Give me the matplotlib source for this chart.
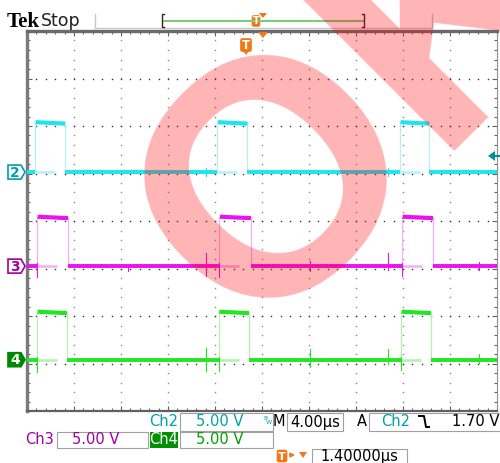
import numpy as np
import matplotlib.pyplot as plt
from matplotlib.patches import Polygon, Rectangle, FancyBboxPatch

# ---- data (time in us, 4 us/div, 5 V/div) ----
ch2_rise = [0.68, 16.2, 31.74]
ch2_fall = [3.23, 18.75, 34.21]
ch3_rise = [0.85, 16.37, 31.91]
ch3_fall = [3.49, 19.06, 34.55]
ch4_rise = [0.85, 16.31, 31.83]
ch4_fall = [3.40, 18.89, 34.38]

ch2_high = 5.25   # volts
ch3_high = 5.2
ch4_high = 5.05

ch2_pos = 5.03    # divisions (ground marker)
ch3_pos = 3.05
ch4_pos = 1.08

# glitches on ch3 / ch4 : time, up (V), down (V)
ch3_spike_t = [0.85, 8.6, 15.23, 16.37, 24.1, 30.7, 31.91, 38.5]
ch3_spike_up = [0.3, 0.2, 1.4, 0.3, 0.5, 1.4, 0.3, 0.4]
ch3_spike_dn = [1.1, 0.5, 1.0, 1.1, 0.5, 0.4, 1.0, 0.4]
ch4_spike_t = [0.85, 15.23, 16.31, 24.1, 30.7, 31.83, 38.5]
ch4_spike_up = [0.3, 1.25, 0.3, 1.1, 1.1, 0.3, 0.6]
ch4_spike_dn = [1.3, 1.15, 1.15, 0.8, 0.4, 1.1, 0.3]
ch2_spike_t = [15.23, 30.7]
ch2_spike_up = [0.4, 0.4]
ch2_spike_dn = [0.4, 0.4]

trig_level = 1.70   # V on ch2
trig_time = 18.75

W, H = 500, 463
fig = plt.figure(figsize=(5.0, 4.63), dpi=100)
fig.patch.set_facecolor('white')

ax = fig.add_axes([27 / W, 1 - 411 / H, 470 / W, 380 / H])
ax.set_xlim(0, 40)
ax.set_ylim(0, 8)
ax.set_facecolor('white')

# graticule dots
for gx in np.arange(4, 40, 4):
    gy = np.arange(0.2, 8, 0.2)
    ax.plot(np.full(len(gy), gx), gy, ls='none', marker='s', ms=1.0, mew=0, color='#8a8a8a', zorder=1)
for gy in np.arange(1, 8, 1):
    gx = np.arange(0.8, 40, 0.8)
    ax.plot(gx, np.full(len(gx), gy), ls='none', marker='s', ms=1.0, mew=0, color='#303030', zorder=1)

ax.set_xticks(np.arange(0, 41, 4))
ax.set_yticks(np.arange(0, 9, 1))
ax.set_xticks(np.arange(0, 40.1, 0.8), minor=True)
ax.set_yticks(np.arange(0, 8.01, 0.2), minor=True)
ax.tick_params(which='both', direction='in', top=True, right=True, labelbottom=False, labelleft=False, color='#606060', width=0.8)
ax.tick_params(which='major', length=3.5)
ax.tick_params(which='minor', length=2)
ax.spines['left'].set_linewidth(2.4)
ax.spines['left'].set_color('#7a7a7a')
ax.spines['top'].set_linewidth(2.4)
ax.spines['top'].set_color('#6a6a6a')
ax.spines['bottom'].set_linewidth(1.6)
ax.spines['bottom'].set_color('#606060')
ax.spines['right'].set_linewidth(0.8)
ax.spines['right'].set_color('#909090')


def draw_channel(rise, fall, pos, high, col, pale, st, su, sd):
    hi = pos + high / 5.0
    prev = 0
    for r, f in zip(rise, fall):
        ax.plot([prev, r], [pos, pos], color=col, lw=2.8, solid_capstyle='butt', zorder=3)
        ax.plot([r, r + 1.7], [pos, pos], color=pale, lw=1.8, solid_capstyle='butt', zorder=3)
        ax.plot([r, r], [pos, hi], color=pale, lw=0.9, zorder=2)
        ax.plot([f, f], [pos, hi], color=pale, lw=0.9, zorder=2)
        ax.plot([r + 0.05, f], [hi, hi - 0.03], color=col, lw=3.0, solid_capstyle='butt', zorder=3)
        prev = f
    ax.plot([prev, 40], [pos, pos], color=col, lw=2.8, solid_capstyle='butt', zorder=3)
    for t, u, d in zip(st, su, sd):
        ax.plot([t, t], [pos - d / 5.0, pos + u / 5.0], color=col, lw=0.8, zorder=3)


draw_channel(ch2_rise, ch2_fall, ch2_pos, ch2_high, '#1ee4ee', '#b2f2f6', ch2_spike_t, ch2_spike_up, ch2_spike_dn)
draw_channel(ch3_rise, ch3_fall, ch3_pos, ch3_high, '#ee10ee', '#f4b0f4', ch3_spike_t, ch3_spike_up, ch3_spike_dn)
draw_channel(ch4_rise, ch4_fall, ch4_pos, ch4_high, '#22e622', '#b0f2b0', ch4_spike_t, ch4_spike_up, ch4_spike_dn)

# ---- overlay in pixel coords for the scope readouts ----
ov = fig.add_axes([0, 0, 1, 1])
ov.set_xlim(0, W)
ov.set_ylim(H, 0)
ov.axis('off')

teal = '#00a0a8'
purple = '#a000a0'
green = '#00a000'
orange = '#f07818'

ov.text(7, 27, 'Tek', fontsize=15, fontweight='bold', family='Liberation Serif', color='black')
ov.text(41, 26, 'Stop', fontsize=12.5, color='#202020')

# record bar
ov.plot([95, 432], [28, 28], color='#c8c8c8', lw=1)
ov.plot([95, 95], [14, 28], color='#c8c8c8', lw=1)
ov.plot([432, 432], [14, 28], color='#c8c8c8', lw=1)
ov.plot([163, 363], [21, 21], color='#7ccc7c', lw=1.5)
ov.plot([164, 162, 162, 164], [14, 14, 27, 27], color='#402020', lw=1)
ov.plot([362, 364, 364, 362], [14, 14, 27, 27], color='#402020', lw=1)


def tmark(x, y, w, h, fs):
    ov.add_patch(FancyBboxPatch((x - w / 2, y - h / 2), w, h, boxstyle='round,pad=0,rounding_size=2',
                                fc=orange, ec=orange, lw=0.5))
    ov.text(x, y + 0.5, 'T', color='white', fontsize=fs, fontweight='bold', ha='center', va='center')


tmark(256, 21, 8, 11, 7)
ov.add_patch(Polygon([(259, 13), (267, 13), (263, 18)], closed=True, fc=orange, ec='none'))
ov.add_patch(Polygon([(258, 32), (268, 32), (263, 38)], closed=True, fc=orange, ec='none'))
tmark(246, 45, 11, 13, 8.5)
ov.add_patch(Polygon([(243, 51), (249, 51), (246, 55)], closed=True, fc=orange, ec='none'))

# channel ground markers
def chmark(y, label, ec, fc, tc):
    ov.add_patch(Polygon([(8, y - 7), (21, y - 7), (25, y), (21, y + 7), (8, y + 7)], closed=True,
                         fc=fc, ec=ec, lw=1.2))
    ov.text(15, y + 0.5, label, color=tc, fontsize=10, fontweight='bold', ha='center', va='center')


chmark(411 - ch2_pos * 47.5, '2', teal, 'white', teal)
chmark(411 - ch3_pos * 47.5, '3', purple, 'white', purple)
chmark(411 - ch4_pos * 47.5, '4', '#008800', '#008800', 'white')

# trigger level arrow (right edge)
ty = 411 - (ch2_pos + trig_level / 5.0) * 47.5
ov.add_patch(Polygon([(488, ty), (495, ty - 5), (495, ty + 5)], closed=True, fc='#00909a', ec='none'))
ov.plot([495, 500], [ty, ty], color='#00909a', lw=1.5)

# readout boxes
def box(x0, y0, x1, y1):
    ov.add_patch(Rectangle((x0, y0), x1 - x0, y1 - y0, fc='white', ec='#a0a0a0', lw=0.8))


fs = 10.5
box(180, 413, 273, 431)
box(287, 413, 343, 431)
box(369, 413, 510, 431)
box(57, 432, 148, 448)
box(180, 432, 273, 448)
box(312, 449, 407, 470)

ov.text(164, 422, 'Ch2', color=teal, fontsize=fs, ha='center', va='center')
ov.text(220, 422, '5.00 V', color=teal, fontsize=fs, ha='center', va='center')
ov.text(265, 418, 'B', color=teal, fontsize=4.5, ha='center', va='center')
ov.text(269, 422, 'W', color=teal, fontsize=4.5, ha='center', va='center')
ov.text(279, 422, 'M', color='black', fontsize=fs, ha='center', va='center')
ov.text(315, 422, '4.00µs', color='black', fontsize=fs, ha='center', va='center')
ov.text(362, 422, 'A', color='black', fontsize=fs, ha='center', va='center')
ov.text(396, 422, 'Ch2', color=teal, fontsize=fs, ha='center', va='center')
ov.plot([419, 424, 426, 429], [416, 416, 427, 427], color='black', lw=1.4)
ov.text(499, 422, '1.70 V', color='black', fontsize=fs, ha='right', va='center')

ov.text(40, 440, 'Ch3', color=purple, fontsize=fs, ha='center', va='center')
ov.text(96, 440, '5.00 V', color=purple, fontsize=fs, ha='center', va='center')
ov.add_patch(Rectangle((150, 432), 28, 16, fc='#009000', ec='none'))
ov.text(164, 440, 'Ch4', color='white', fontsize=fs, ha='center', va='center')
ov.text(220, 440, '5.00 V', color=green, fontsize=fs, ha='center', va='center')

tmark(282, 456, 10, 12, 8)
ov.annotate('', xy=(298, 455), xytext=(288, 455),
            arrowprops=dict(arrowstyle='-|>', color=orange, lw=1.2, mutation_scale=6))
ov.add_patch(Polygon([(299, 452), (307, 452), (303, 458)], closed=True, fc=orange, ec='none'))
ov.text(359, 457, '1.40000µs', color='black', fontsize=fs, ha='center', va='center')

# red "OK" watermark across the screen
ov.text(252.6, 339.4, 'OK', fontsize=240, fontweight='bold', family='Liberation Sans',
        color=(1.0, 0.02, 0.03), alpha=0.3, rotation=45, rotation_mode='anchor',
        ha='left', va='baseline', zorder=50)

fig.savefig('out.png', dpi=100)
